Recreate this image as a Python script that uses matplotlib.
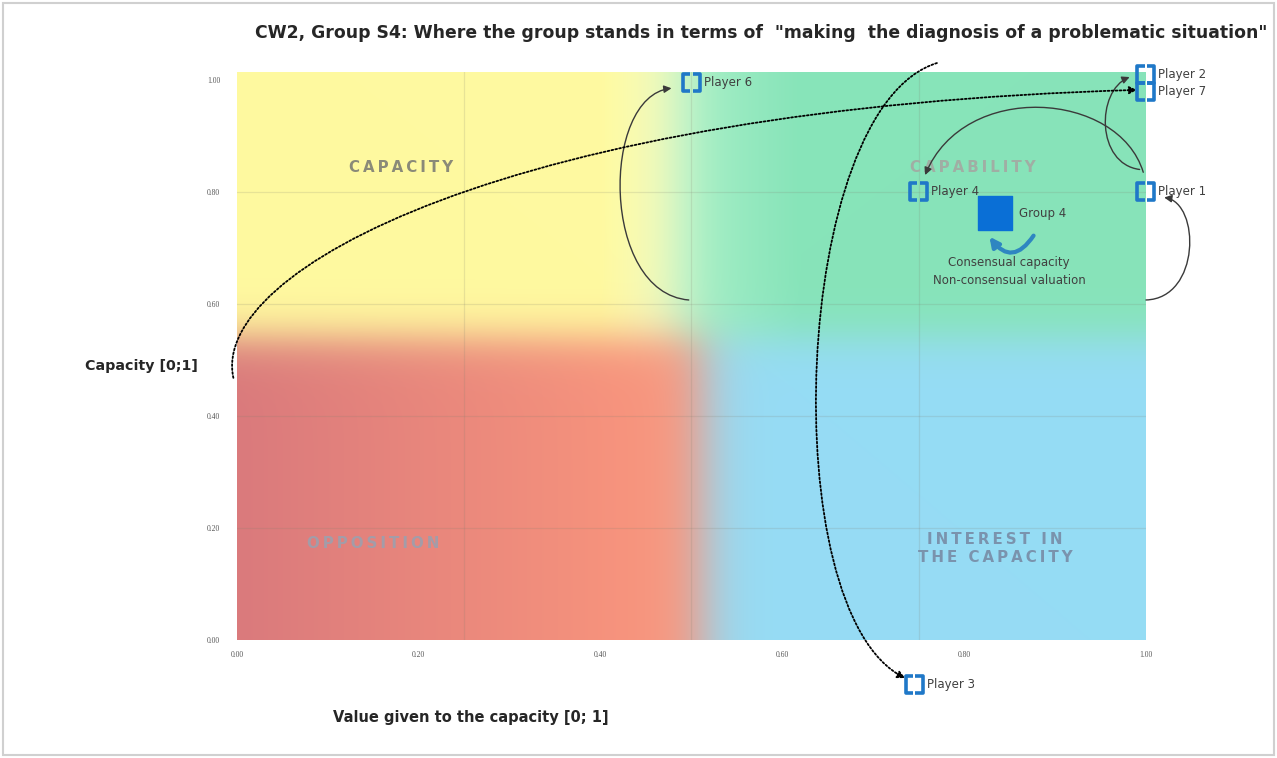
import numpy as np
import matplotlib
matplotlib.use("Agg")
import matplotlib.pyplot as plt
from matplotlib.patches import FancyArrowPatch, Rectangle
from matplotlib.path import Path

# Chart data
title = 'CW2, Group S4: Where the group stands in terms of  "making  the diagnosis of a problematic situation"'
x_label = "Value given to the capacity [0; 1]"
y_label = "Capacity [0;1]"

players = ["Player 1", "Player 2", "Player 3", "Player 4", "Player 6", "Player 7"]
player_value = [1.00, 1.00, 0.745, 0.75, 0.50, 1.00]
player_capacity = [0.80, 1.01, -0.08, 0.80, 0.995, 0.98]

group_name = "Group 4"
group_value = 0.834
group_capacity = 0.762
group_note = "Consensual capacity\nNon-consensual valuation"

quadrants = ["CAPACITY", "CAPABILITY", "OPPOSITION", "INTEREST IN\nTHE CAPACITY"]
quadrant_x = [0.18, 0.81, 0.15, 0.834]
quadrant_y = [0.843, 0.843, 0.173, 0.163]

tick_values = [0.0, 0.2, 0.4, 0.6, 0.8, 1.0]

# moves: start point -> player, solid or dotted
move_start = [(0.497, 0.607), (0.997, 0.835), (0.993, 0.84), (1.0, 0.607),
              (-0.004, 0.468), (0.77, 1.03)]
move_end = [(0.478, 0.985), (0.757, 0.83), (0.982, 1.005), (1.02, 0.79),
            (0.99, 0.982), (0.735, -0.068)]
move_ctrl = [[(0.40, 0.62), (0.40, 0.97)],
             [(0.97, 0.98), (0.80, 1.00)],
             [(0.945, 0.85), (0.945, 0.98)],
             [(1.06, 0.61), (1.06, 0.78)],
             [(-0.03, 0.66), (0.30, 0.95)],
             [(0.61, 0.95), (0.59, 0.05)]]
move_dotted = [False, False, False, False, True, True]

fig = plt.figure(figsize=(12.77, 7.58), dpi=100)
ax = fig.add_axes([0.1856, 0.1557, 0.7118, 0.7493])
ax.set_xlim(0, 1)
ax.set_ylim(0, 1.014)

# background: four coloured zones blended together
nx, ny = 700, 450
gx = np.linspace(0, 1, nx)
gy = np.linspace(0, 1.014, ny)
X, Y = np.meshgrid(gx, gy)
wy = 1 / (1 + np.exp(-(Y - 0.54) / 0.022))
wx_top = 1 / (1 + np.exp(-(X - 0.487) / 0.017))
wx_bot = 1 / (1 + np.exp(-(X - 0.513) / 0.016))
yellow = np.array([255, 250, 160]) / 255
pale = np.array([248, 252, 200]) / 255
green = np.array([135, 228, 185]) / 255
mint = np.array([162, 238, 198]) / 255
blue = np.array([150, 220, 245]) / 255
red_l = np.array([218, 122, 124]) / 255
red_r = np.array([250, 150, 125]) / 255
t = np.clip(X / 0.47, 0, 1)[..., None]
red = red_l * (1 - t) + red_r * t
ty = np.clip((X - 0.40) / 0.1, 0, 1)[..., None]
yel = yellow * (1 - ty) + pale * ty
tg = np.clip((X - 0.5) / 0.12, 0, 1)[..., None]
grn = mint * (1 - tg) + green * tg
top = yel * (1 - wx_top[..., None]) + grn * wx_top[..., None]
bot = red * (1 - wx_bot[..., None]) + blue * wx_bot[..., None]
img = bot * (1 - wy[..., None]) + top * wy[..., None]
ax.imshow(img, extent=[0, 1, 0, 1.014], origin="lower", aspect="auto", zorder=0)

for gxv in [0.25, 0.5, 0.75]:
    ax.axvline(gxv, color="#808070", alpha=0.18, lw=0.9, zorder=1)
for gyv in [0.2, 0.4, 0.6, 0.8]:
    ax.axhline(gyv, color="#808070", alpha=0.18, lw=0.9, zorder=1)

for s in ax.spines.values():
    s.set_visible(False)
ax.set_xticks(tick_values)
ax.set_yticks(tick_values)
ax.set_xticklabels(["%.2f" % v for v in tick_values])
ax.set_yticklabels(["%.2f" % v for v in tick_values])
ax.tick_params(length=0, labelsize=5.5, labelcolor="#555555")
ax.tick_params(axis="x", pad=8)
ax.tick_params(axis="y", pad=12)
for lab in ax.get_xticklabels() + ax.get_yticklabels():
    lab.set_family("Liberation Serif")

# quadrant labels
q_colors = ["#8a8a78", "#a0aea4", "#a39ca8", "#7a93ad"]
for name, qx, qy, qc in zip(quadrants, quadrant_x, quadrant_y, q_colors):
    spaced = "\n".join("\u2009".join(line) for line in name.split("\n"))
    ax.text(qx, qy, spaced, ha="center", va="center", fontsize=10.8,
            fontweight="bold", color=qc, linespacing=1.2, zorder=2)

# arrows
for st, en, cp, dot in zip(move_start, move_end, move_ctrl, move_dotted):
    path = Path([st, cp[0], cp[1], en],
                [Path.MOVETO, Path.CURVE4, Path.CURVE4, Path.CURVE4])
    arr = FancyArrowPatch(path=path, arrowstyle="-|>", mutation_scale=11,
                          color="black" if dot else "#3a3a3a",
                          lw=1.3 if dot else 1.0,
                          linestyle=(0, (1, 1.2)) if dot else "-",
                          clip_on=False, zorder=4)
    ax.add_patch(arr)

# player markers
bracket = Path([(-0.15, 1), (-1, 1), (-1, -1), (-0.15, -1),
                (0.15, 1), (1, 1), (1, -1), (0.15, -1)],
               [Path.MOVETO, Path.LINETO, Path.LINETO, Path.LINETO,
                Path.MOVETO, Path.LINETO, Path.LINETO, Path.LINETO])
ax.scatter(player_value, player_capacity, marker=bracket, s=150,
           facecolors="none", edgecolors="#1f78c8", linewidths=2.6,
           clip_on=False, zorder=5)
for name, px, py in zip(players, player_value, player_capacity):
    ax.annotate(name, (px, py), xytext=(9, 0), textcoords="offset points",
                va="center", ha="left", fontsize=8.5, color="#404040",
                annotation_clip=False, zorder=6)

# group marker
ax.scatter([group_value], [group_capacity], marker="s", s=630,
           color="#0a6fd6", zorder=5)
ax.annotate(group_name, (group_value, group_capacity), xytext=(17, 0),
            textcoords="offset points", va="center", ha="left",
            fontsize=8.5, color="#404040", zorder=6)
ax.annotate(group_note, (group_value, group_capacity), xytext=(10, -42),
            textcoords="offset points", va="center", ha="center",
            fontsize=8.5, color="#404040", linespacing=1.55, zorder=6)
ax.annotate("", xy=(group_value - 0.008, group_capacity - 0.038),
            xytext=(group_value + 0.044, group_capacity - 0.036),
            arrowprops=dict(arrowstyle="-|>", color="#2e86c1", lw=3,
                            mutation_scale=14,
                            connectionstyle="arc3,rad=-0.75"), zorder=5)

fig.text(0.596, 0.956, title, ha="center", va="center", fontsize=12.4,
         fontweight="bold", color="#262626")
fig.text(0.369, 0.054, x_label, ha="center", va="center", fontsize=10.5,
         fontweight="bold", color="#262626")
fig.text(0.111, 0.517, y_label, ha="center", va="center", fontsize=10.3,
         fontweight="bold", color="#262626")

fig.patches.append(Rectangle((0.002, 0.004), 0.996, 0.992, transform=fig.transFigure,
                             fill=False, edgecolor="#d0d0d0", lw=1.5))

fig.savefig("out.png", dpi=100)
plt.close()
